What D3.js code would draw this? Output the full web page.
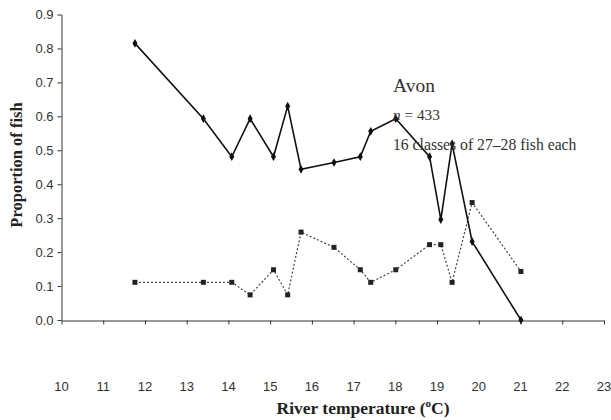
<!DOCTYPE html>
<html lang="en">
  <head>
    <meta charset="UTF-8" />
    <title>Avon proportion of fish</title>
    <script src="https://d3js.org/d3.v7.min.js"></script>
    <style>
      body { margin: 0; background: #fff; }
      .tick text { font-family: "Liberation Sans", Arial, sans-serif; font-size: 13px; fill: #333; }
      .domain, .tick line { stroke: #333; }
      .title { font-family: "Liberation Serif", "Times New Roman", serif; font-weight: bold; fill: #222; }
      .note { font-family: "Liberation Serif", "Times New Roman", serif; fill: #333; }
    </style>
  </head>
  <body>
    <svg id="canvas" width="611" height="420"></svg>
    <script>
      // river temperature for each class
      const temps = [11.76, 13.4, 14.08, 14.52, 15.08, 15.42, 15.74, 16.53, 17.16, 17.41, 18.01, 18.82, 19.09, 19.36, 19.84, 21.01];
      // solid line (diamonds)
      const upper = [0.815, 0.593, 0.481, 0.593, 0.481, 0.630, 0.444, 0.464, 0.481, 0.556, 0.593, 0.481, 0.296, 0.519, 0.231, 0.0];
      // dotted line (squares)
      const lower = [0.111, 0.111, 0.111, 0.074, 0.148, 0.074, 0.259, 0.214, 0.148, 0.111, 0.148, 0.222, 0.222, 0.111, 0.346, 0.143];
      const xTicks = d3.range(10, 24);
      const yTicks = d3.range(0, 0.91, 0.1);

      const svg = d3.select("#canvas");
      const x = d3.scaleLinear().domain([10, 23]).range([61.5, 604]);
      const y = d3.scaleLinear().domain([0, 0.9]).range([320, 14.5]);

      // y axis
      svg.append("g")
        .attr("transform", "translate(61.5,0)")
        .call(d3.axisLeft(y).tickValues(yTicks).tickFormat(d3.format(".1f")).tickSize(4).tickSizeOuter(0).tickPadding(4));

      // x axis line + ticks, labels drawn lower
      svg.append("g")
        .attr("transform", "translate(0,320.5)")
        .call(d3.axisBottom(x).tickValues(xTicks).tickSize(4).tickSizeOuter(0).tickFormat(""));
      svg.append("g").selectAll("text")
        .data(xTicks)
        .enter()
        .append("text")
        .attr("x", (d) => x(d))
        .attr("y", 391)
        .attr("text-anchor", "middle")
        .style("font-family", "Liberation Sans, Arial, sans-serif")
        .style("font-size", "13px")
        .style("fill", "#333")
        .text((d) => d);

      // axis titles
      const xt = svg.append("text").attr("class", "title").attr("x", 363).attr("y", 414)
        .attr("text-anchor", "middle").style("font-size", "17.5px");
      xt.append("tspan").text("River temperature (");
      xt.append("tspan").attr("dy", -7).style("font-size", "11px").text("o");
      xt.append("tspan").attr("dy", 7).text("C)");
      svg.append("text").attr("class", "title")
        .attr("transform", "translate(22,165) rotate(-90)")
        .attr("text-anchor", "middle")
        .style("font-size", "16.5px")
        .text("Proportion of fish");

      const pts = (vals) => temps.map((t, i) => [t, vals[i]]);
      const line = d3.line().x((d) => x(d[0])).y((d) => y(d[1]));

      // dotted series
      svg.append("path")
        .datum(pts(lower))
        .attr("d", line)
        .attr("fill", "none")
        .attr("stroke", "#444")
        .attr("stroke-width", 1.2)
        .attr("stroke-dasharray", "2,2");
      svg.selectAll(".sq")
        .data(pts(lower))
        .enter()
        .append("rect")
        .attr("class", "sq")
        .attr("x", (d) => x(d[0]) - 2.5)
        .attr("y", (d) => y(d[1]) - 2.5)
        .attr("width", 5)
        .attr("height", 5)
        .attr("fill", "#222");

      // solid series
      svg.append("path")
        .datum(pts(upper))
        .attr("d", line)
        .attr("fill", "none")
        .attr("stroke", "#111")
        .attr("stroke-width", 1.6);
      svg.selectAll(".dm")
        .data(pts(upper))
        .enter()
        .append("path")
        .attr("class", "dm")
        .attr("d", d3.symbol().type(d3.symbolDiamond).size(22))
        .attr("transform", (d) => `translate(${x(d[0])},${y(d[1])})`)
        .attr("fill", "#111");

      // annotation
      svg.append("text").attr("class", "note").attr("x", 393).attr("y", 92).style("font-size", "19.5px").text("Avon");
      const n = svg.append("text").attr("class", "note").attr("x", 393).attr("y", 120).style("font-size", "15.3px");
      n.append("tspan").style("font-style", "italic").text("n");
      n.append("tspan").text(" = 433");
      svg.append("text").attr("class", "note").attr("x", 393).attr("y", 150).style("font-size", "15.7px").text("16 classes of 27–28 fish each");
    </script>
  </body>
</html>
